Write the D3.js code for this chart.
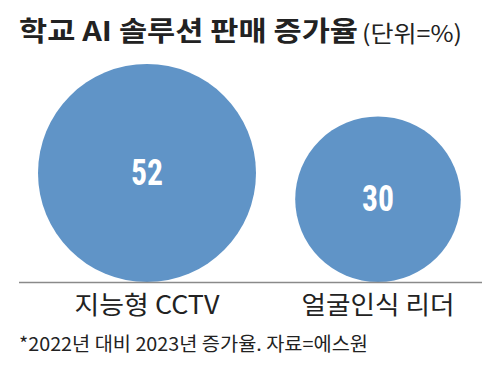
<!DOCTYPE html>
<html><head><meta charset="utf-8">
<script src="https://cdn.jsdelivr.net/npm/d3@7"></script>
<style>body{margin:0;background:#fff}svg{display:block}</style>
</head><body>
<script>
const categories = ["지능형 CCTV", "얼굴인식 리더"];
const values = [52, 30];
const title = "학교 AI 솔루션 판매 증가율";
const unit = "(단위=%)";
const note = "*2022년 대비 2023년 증가율. 자료=에스원";

const W = 500, H = 378, baseY = 282;
const svg = d3.select("body").append("svg").attr("width", W).attr("height", H);
const kr = "'Noto Sans CJK KR','Noto Sans',sans-serif";

const x = d3.scalePoint().domain(categories).range([147, 378]);
const r = d3.scaleSqrt().domain([0, 52]).range([0, 109]);
const catW = [145, 153];

svg.append("text").attr("x", 19).attr("y", 41)
  .attr("font-family", kr).attr("font-weight", 700).attr("font-size", 27)
  .attr("textLength", 339).attr("lengthAdjust", "spacingAndGlyphs")
  .attr("fill", "#222").text(title);
svg.append("text").attr("x", 362).attr("y", 42)
  .attr("font-family", kr).attr("font-size", 23)
  .attr("textLength", 100).attr("lengthAdjust", "spacingAndGlyphs")
  .attr("fill", "#222").text(unit);

const g = svg.selectAll("g.c").data(categories).enter().append("g");
g.append("circle")
  .attr("cx", d => x(d))
  .attr("cy", (d, i) => baseY - r(values[i]))
  .attr("r", (d, i) => r(values[i]))
  .attr("fill", "#6094c7");
g.append("text")
  .attr("x", d => x(d) - 16)
  .attr("y", (d, i) => baseY - r(values[i]) + 12)
  .attr("font-family", "'Liberation Sans Narrow','Roboto Condensed',sans-serif")
  .attr("font-weight", 700).attr("font-size", 37).attr("fill", "#fff")
  .attr("textLength", 32).attr("lengthAdjust", "spacingAndGlyphs")
  .text((d, i) => values[i]);

svg.append("line").attr("x1", 19).attr("x2", 482).attr("y1", baseY + 0.5).attr("y2", baseY + 0.5)
  .attr("stroke", "#8a8a8a").attr("stroke-width", 1.5);

svg.selectAll("text.cat").data(categories).enter().append("text")
  .attr("x", (d, i) => x(d) - catW[i] / 2).attr("y", 314)
  .attr("font-family", kr).attr("font-size", 25)
  .attr("textLength", (d, i) => catW[i]).attr("lengthAdjust", "spacingAndGlyphs")
  .attr("fill", "#222").text(d => d);

svg.append("text").attr("x", 19).attr("y", 351)
  .attr("font-family", kr).attr("font-size", 19)
  .attr("textLength", 349).attr("lengthAdjust", "spacingAndGlyphs")
  .attr("fill", "#222").text(note);
</script>
</body></html>
